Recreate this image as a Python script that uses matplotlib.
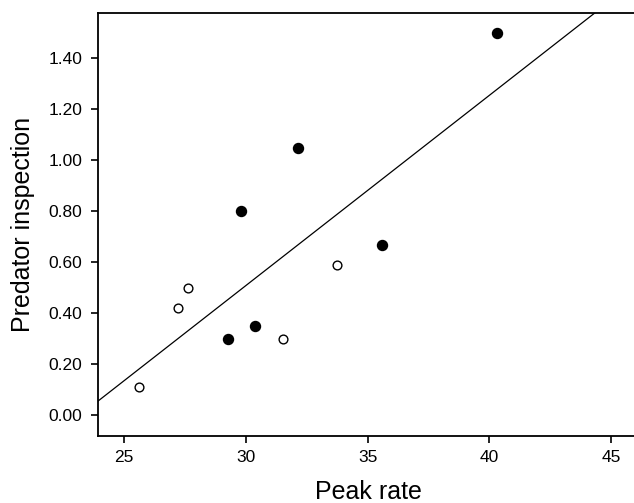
import numpy as np
import matplotlib
matplotlib.use('Agg')
import matplotlib.pyplot as plt

plt.rcParams['font.family'] = ['Liberation Sans', 'DejaVu Sans']

# filled circles
filled_x = [40.33, 32.15, 29.81, 35.59, 29.27, 30.38]
filled_y = [1.50, 1.05, 0.80, 0.67, 0.30, 0.35]
# open circles
open_x = [25.61, 27.21, 27.64, 31.51, 33.76]
open_y = [0.11, 0.42, 0.50, 0.30, 0.59]

x_ticks = [25, 30, 35, 40, 45]
y_ticks = [0.0, 0.2, 0.4, 0.6, 0.8, 1.0, 1.2, 1.4]
x_lim = (23.91, 46.19)
y_lim = (-0.081, 1.578)

fig = plt.figure(figsize=(6.34, 5.03), dpi=100)
ax = fig.add_axes([0.1541, 0.1332, 0.8554, 0.8410])

# regression over all points
all_x = np.array(filled_x + open_x)
all_y = np.array(filled_y + open_y)
slope, intercept = np.polyfit(all_x, all_y, 1)
lx = np.array(x_lim)
ax.plot(lx, slope * lx + intercept, color='black', linewidth=0.9)

ax.plot(filled_x, filled_y, 'o', color='black', markersize=7.2)
ax.plot(open_x, open_y, 'o', markerfacecolor='white', markeredgecolor='black',
        markersize=6.3, markeredgewidth=1.0)

ax.set_xlim(*x_lim)
ax.set_ylim(*y_lim)
ax.set_xticks(x_ticks)
ax.set_yticks(y_ticks)
ax.set_yticklabels(['%.2f' % v for v in y_ticks])
ax.tick_params(direction='out', length=5, width=1.2, labelsize=12.5)
ax.tick_params(axis='y', pad=6)
ax.tick_params(axis='x', pad=5)

for s in ax.spines.values():
    s.set_linewidth(1.3)

ax.set_xlabel('Peak rate', fontsize=18, labelpad=11)
ax.set_ylabel('Predator inspection', fontsize=18, labelpad=10)

plt.savefig('out.png', dpi=100)
